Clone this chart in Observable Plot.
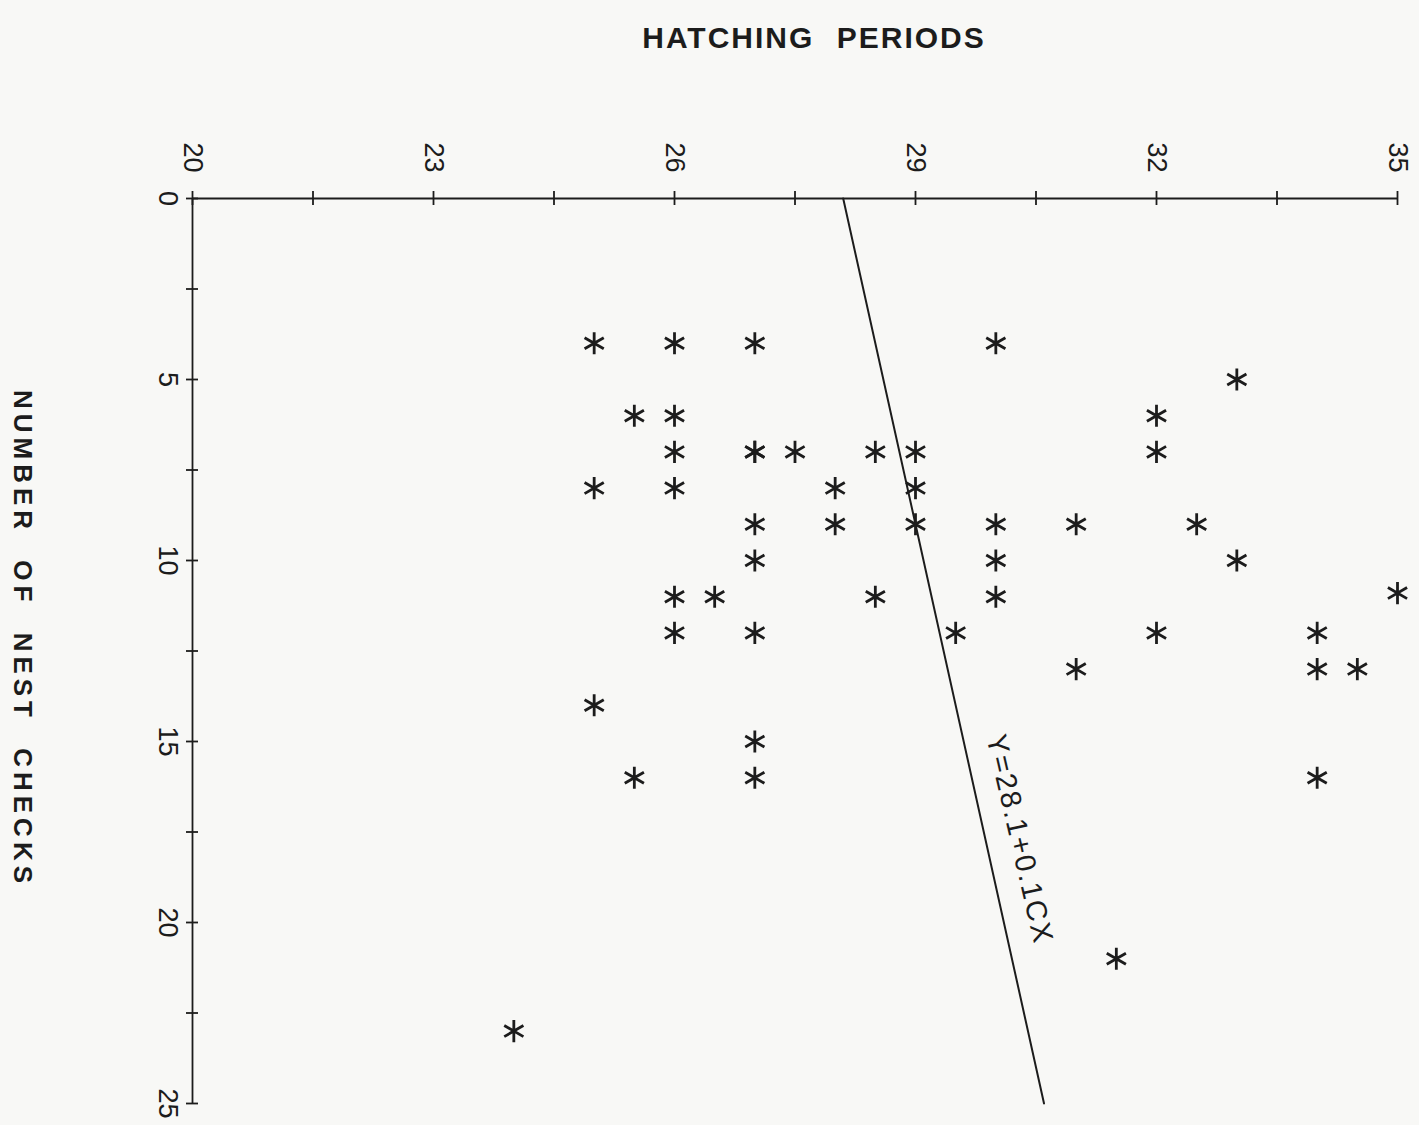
<!DOCTYPE html>
<html>
<head>
<meta charset="utf-8">
<script src="https://cdn.jsdelivr.net/npm/d3@7"></script>
<script src="https://cdn.jsdelivr.net/npm/@observablehq/plot@0.6"></script>
<style>
  html, body { margin: 0; padding: 0; background: #f8f8f6; }
  #chart svg { display: block; }
</style>
</head>
<body>
<div id="chart"></div>
<script>
// Hatching period (days) of each nest
const hatchingPeriods = [
  25, 26, 27, 30,
  33,
  25.5, 26, 32,
  26, 27, 27, 27.5, 28.5, 29, 32,
  25, 26, 28, 29,
  27, 28, 29, 30, 31, 32.5,
  27, 30, 33,
  26, 26.5, 28.5, 30, 35,
  26, 27, 29.5, 32, 34,
  31, 34, 34.5,
  25,
  27,
  25.5, 27, 34,
  31.5,
  24
];
// Number of nest checks for each nest
const nestChecks = [
  4, 4, 4, 4,
  5,
  6, 6, 6,
  7, 7, 7, 7, 7, 7, 7,
  8, 8, 8, 8,
  9, 9, 9, 9, 9, 9,
  10, 10, 10,
  11, 11, 11, 11, 10.9,
  12, 12, 12, 12, 12,
  13, 13, 13,
  14,
  15,
  16, 16, 16,
  21,
  23
];
// Axis ticks and labels
const xTicks = [20, 21.5, 23, 24.5, 26, 27.5, 29, 30.5, 32, 33.5, 35];
const xLabels = [20, 23, 26, 29, 32, 35];
const yTicks = [0, 2.5, 5, 7.5, 10, 12.5, 15, 17.5, 20, 22.5, 25];
const yLabels = [0, 5, 10, 15, 20, 25];
// Regression line Y = 28.1 + 0.1 C X
const intercept = 28.1;
const slope = 0.1;
const lineChecks = [0, 25];
const equationLabel = "Y=28.1+0.1CX";
const equationAt = 17.7;
const xTitle = "HATCHING PERIODS";
const yTitle = "NUMBER OF NEST CHECKS";

const points = hatchingPeriods.map((p, i) => ({period: p, checks: nestChecks[i]}));
const regression = lineChecks.map(c => ({period: intercept + slope * c, checks: c}));
const ink = "#1c1c1c";

const chart = Plot.plot({
  width: 1419,
  height: 1125,
  marginLeft: 192,
  marginRight: 22,
  marginTop: 198,
  marginBottom: 22,
  x: {domain: [20, 35], axis: null},
  y: {domain: [0, 25], reverse: true, axis: null},
  style: {background: "#f8f8f6", fontFamily: "'Liberation Sans', Arial, sans-serif", color: ink},
  marks: [
    // axis lines
    Plot.ruleY([0], {x1: 20, x2: 35, stroke: ink, strokeWidth: 1.8}),
    Plot.ruleX([20], {y1: 0, y2: 25, stroke: ink, strokeWidth: 1.8}),
    // crossing ticks
    Plot.ruleX(xTicks, {x: d => d, y1: 0, y2: 0, insetTop: -7, insetBottom: -7, stroke: ink, strokeWidth: 1.8}),
    Plot.ruleY(yTicks, {y: d => d, x1: 20, x2: 20, insetLeft: -6, insetRight: -6, stroke: ink, strokeWidth: 1.8}),
    // tick labels (rotated)
    Plot.text(xLabels, {x: d => d, y: 0, text: d => String(d), rotate: 90, dy: -41, fontSize: 27, fill: ink}),
    Plot.text(yLabels, {x: 20, y: d => d, text: d => String(d), rotate: 90, dx: -25, fontSize: 27, fill: ink}),
    // regression line
    Plot.line(regression, {x: "period", y: "checks", stroke: ink, strokeWidth: 2}),
    Plot.text([equationLabel], {
      x: () => intercept + slope * equationAt, y: () => equationAt,
      text: d => d, rotate: 77, dx: 34, fontSize: 29, textAnchor: "middle", fill: ink
    }),
    // points
    Plot.dot(points, {x: "period", y: "checks", symbol: "asterisk", r: 10.5, stroke: ink, strokeWidth: 2.8}),
    // titles
    Plot.text([xTitle], {frameAnchor: "top", dx: 19, dy: -172, text: d => d, fontSize: 30, fontWeight: "bold", textAnchor: "middle", fill: ink}),
    Plot.text([yTitle], {frameAnchor: "left", dx: -170, dy: -12, text: d => d, rotate: 90, fontSize: 26, fontWeight: "bold", textAnchor: "middle", fill: ink})
  ]
});

document.getElementById("chart").appendChild(chart);
const svg = d3.select(chart);
const byText = t => svg.selectAll("text").filter(function () { return this.textContent === t; });
byText(xTitle).attr("letter-spacing", 2).attr("word-spacing", 12);
byText(yTitle).attr("letter-spacing", 5).attr("word-spacing", 14);
byText(equationLabel).attr("letter-spacing", 2);
</script>
</body>
</html>
